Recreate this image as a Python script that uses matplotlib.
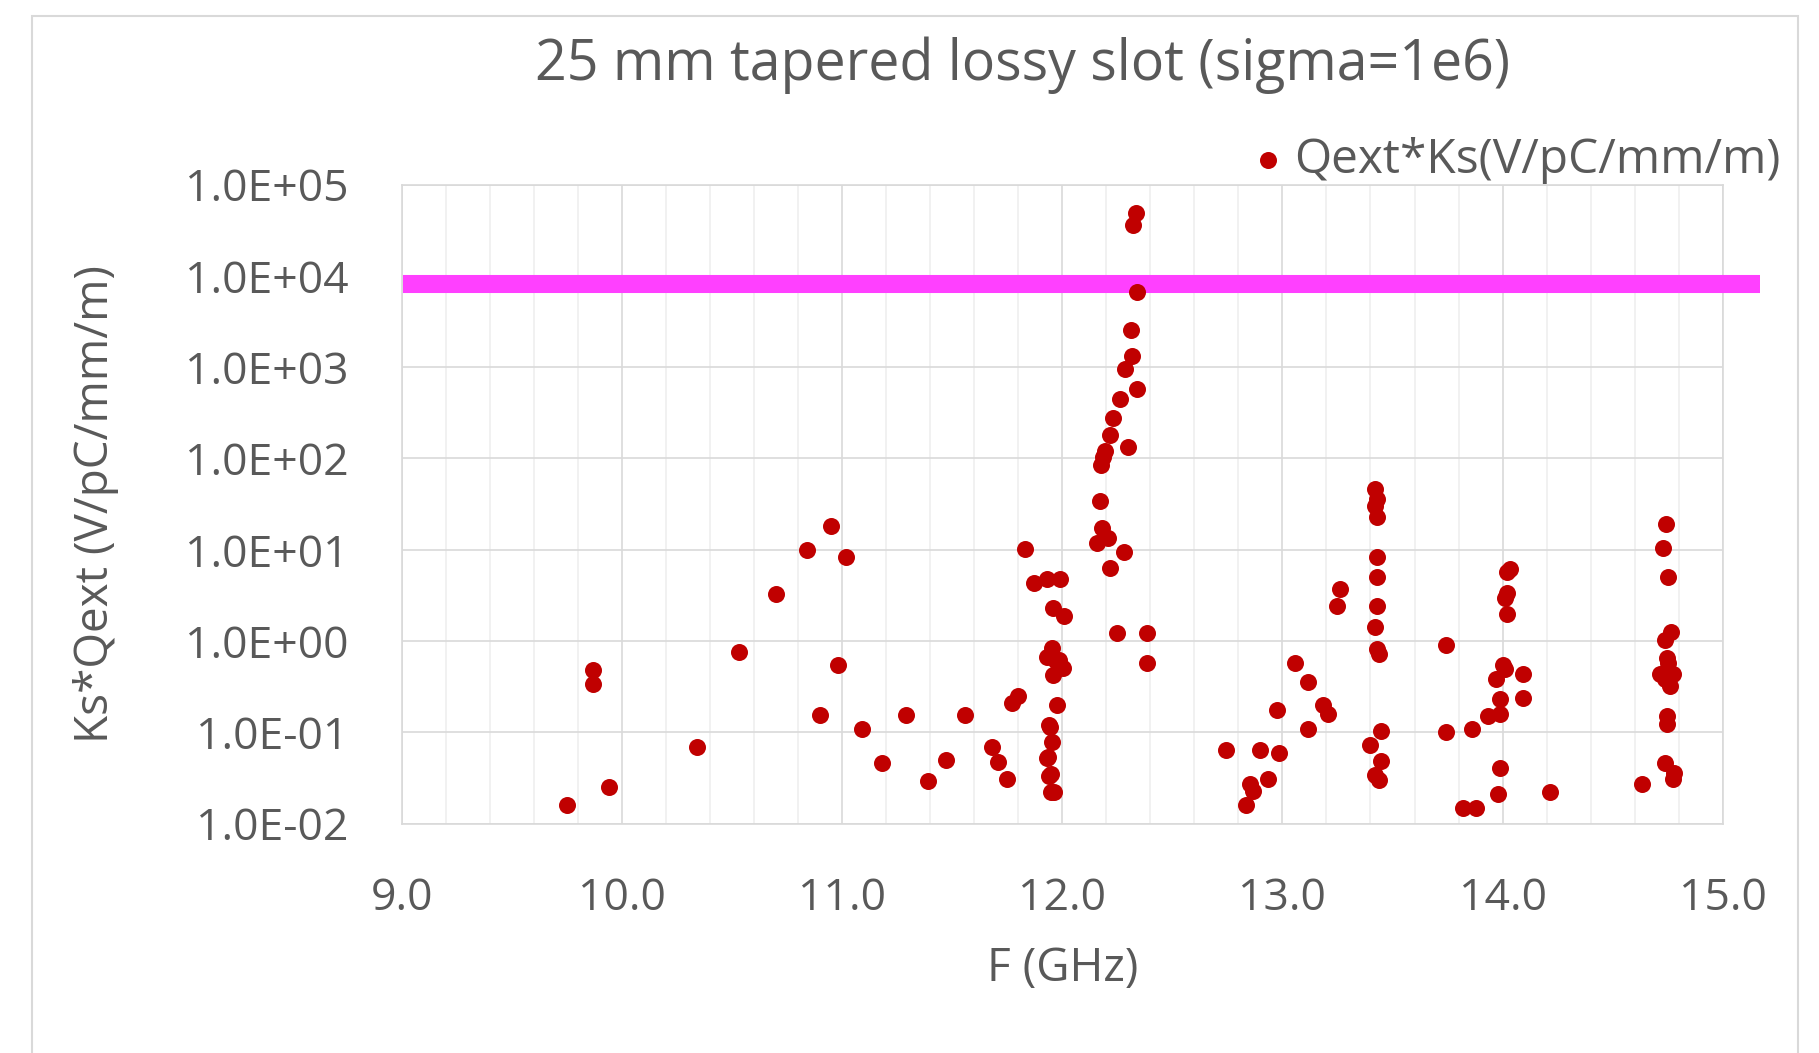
import matplotlib
matplotlib.use("Agg")
import matplotlib.pyplot as plt
from matplotlib.patches import Rectangle

plt.rcParams['font.family'] = ['Open Sans', 'DejaVu Sans']

# frequency (GHz) and Qext*Ks (V/pC/mm/m)
freq = [
    9.75, 9.87, 9.87, 9.94, 10.34, 10.53, 10.70, 10.84, 10.95, 11.02,
    10.98, 10.90, 11.09, 11.18, 11.29, 11.39, 11.47, 11.56, 11.68, 11.71,
    11.75, 11.77, 11.80, 11.83, 11.87, 11.93, 11.99, 11.96, 12.01, 11.955,
    11.93, 11.985, 12.005, 11.96, 11.975, 11.94, 11.955, 11.93, 11.94, 11.95,
    11.965, 11.95, 11.935, 11.945, 11.97,
    12.336, 12.32, 12.34, 12.314, 12.317, 12.286, 12.34, 12.264, 12.23, 12.215,
    12.195, 12.177, 12.30, 12.17, 12.18, 12.21, 12.16, 12.28, 12.215, 12.25,
    12.386, 12.385, 12.185,
    12.746, 12.853, 12.868, 12.834, 12.936, 12.898, 12.986, 12.974, 13.118, 13.058,
    13.118, 13.184, 13.205, 13.263, 13.25,
    13.42, 13.43, 13.42, 13.43, 13.43, 13.43, 13.43, 13.42, 13.43, 13.44,
    13.45, 13.40, 13.45, 13.42, 13.44,
    13.745, 13.745, 13.818, 13.878, 13.863, 13.935, 13.977, 13.988, 13.988, 13.988,
    13.97, 14.0, 14.01, 14.094, 14.094, 14.216, 14.035, 14.02, 14.02, 14.01,
    14.02,
    14.741, 14.727, 14.753, 14.764, 14.738, 14.745, 14.753, 14.715, 14.773, 14.76,
    14.738, 14.745, 14.748, 14.738, 14.779, 14.776, 14.632,
]
qks = [
    0.016, 0.48, 0.34, 0.025, 0.069, 0.76, 3.25, 10.0, 18.3, 8.3,
    0.54, 0.153, 0.109, 0.046, 0.155, 0.029, 0.050, 0.155, 0.069, 0.047,
    0.031, 0.21, 0.25, 10.2, 4.3, 4.8, 4.8, 2.3, 1.9, 0.84,
    0.67, 0.62, 0.51, 0.42, 0.20, 0.12, 0.079, 0.052, 0.033, 0.022,
    0.022, 0.035, 0.054, 0.115, 0.60,
    49000, 36000, 6600, 2540, 1320, 946, 583, 451, 281, 183,
    121, 85, 134, 34, 17.4, 13.5, 12, 9.5, 6.3, 1.21,
    1.21, 0.58, 105,
    0.064, 0.027, 0.023, 0.016, 0.031, 0.064, 0.059, 0.174, 0.11, 0.58,
    0.36, 0.197, 0.16, 3.75, 2.41,
    45.9, 35.7, 30, 22.9, 8.4, 5.0, 2.43, 1.44, 0.81, 0.72,
    0.103, 0.072, 0.049, 0.034, 0.030,
    0.91, 0.10, 0.0148, 0.0148, 0.108, 0.15, 0.021, 0.041, 0.16, 0.23,
    0.38, 0.54, 0.49, 0.44, 0.24, 0.022, 6.2, 5.7, 3.37, 2.96,
    2.0,
    19.1, 10.5, 5.0, 1.27, 1.03, 0.65, 0.57, 0.44, 0.44, 0.32,
    0.38, 0.15, 0.123, 0.046, 0.036, 0.031, 0.027,
]

# limit line
limit_x = [9.005, 15.17]
limit_y = [8100, 8100]

xticks = [9.0, 10.0, 11.0, 12.0, 13.0, 14.0, 15.0]
yticks = [1e-2, 1e-1, 1e0, 1e1, 1e2, 1e3, 1e4, 1e5]
ytick_labels = ['1.0E-02', '1.0E-01', '1.0E+00', '1.0E+01',
                '1.0E+02', '1.0E+03', '1.0E+04', '1.0E+05']

txt = '#595959'
grid_c = '#d9d9d9'

fig = plt.figure(figsize=(18.19, 10.53), dpi=100)
ax = fig.add_axes([0.2208, 0.2179, 0.7263, 0.6067])

fig.patches.append(Rectangle((32 / 1819, -0.1), (1798 - 32) / 1819, 1.1 - 16 / 1053,
                             transform=fig.transFigure, fill=False,
                             edgecolor=grid_c, lw=1.5))

ax.set_yscale('log')
ax.set_xlim(9.0, 15.0)
ax.set_ylim(1e-2, 1e5)

ax.set_xticks(xticks)
ax.set_xticklabels([f'{v:.1f}' for v in xticks])
ax.set_xticks([9 + 0.2 * i for i in range(31)], minor=True)
ax.set_yticks(yticks)
ax.set_yticklabels(ytick_labels)
ax.yaxis.set_minor_locator(matplotlib.ticker.NullLocator())

ax.grid(True, which='major', axis='both', color=grid_c, lw=1.2)
ax.grid(True, which='minor', axis='x', color='#efefef', lw=1.2)
ax.set_axisbelow(True)
ax.tick_params(which='both', length=0, labelsize=32, labelcolor=txt)
ax.tick_params(axis='x', pad=38)
ax.tick_params(axis='y', pad=38)
for s in ax.spines.values():
    s.set_color(grid_c)
    s.set_linewidth(1.2)

ax.plot(limit_x, limit_y, color='#ff40ff', lw=13, solid_capstyle='butt',
        clip_on=False, zorder=3)
pts = ax.scatter(freq, qks, s=150, color='#c00000', linewidths=0,
                 zorder=4, clip_on=False, label='Qext*Ks(V/pC/mm/m)')

ax.set_xlabel('F (GHz)', fontsize=33, color=txt, labelpad=18)
ax.set_ylabel('Ks*Qext (V/pC/mm/m)', fontsize=33, color=txt, labelpad=48)
fig.text(1023 / 1819, 1 - 65 / 1053, '25 mm tapered lossy slot (sigma=1e6)',
         fontsize=40, color=txt, ha='center', va='center')

ax.legend(handles=[pts], loc='center right', bbox_to_anchor=(0.979, 0.848),
          bbox_transform=fig.transFigure, frameon=False, fontsize=34.5,
          labelcolor=txt, handletextpad=0.15, borderpad=0, handlelength=0.8,
          borderaxespad=0)

fig.savefig('out.png', dpi=100)
